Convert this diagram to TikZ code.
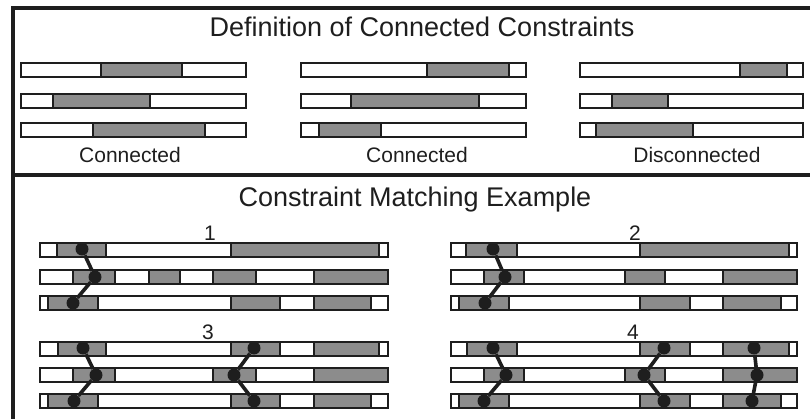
\documentclass[tikz,border=0pt]{standalone}
\usepackage{fontspec}
\setmainfont{Liberation Sans}
\definecolor{segfill}{RGB}{140,140,140}
\definecolor{ink}{RGB}{30,30,30}
% one constraint row: left, right, top, gray intervals
\newcommand{\crow}[4]{%
  \draw[barline,fill=white] (#1,#3) rectangle (#2,#3+14);
  \foreach \a/\b in {#4}
    \draw[barline,fill=segfill] (\a,#3) rectangle (\b,#3+14);
}

\begin{document}
\begin{tikzpicture}[x=0.5pt,y=-0.5pt,
    barline/.style={draw=ink,line width=1.2pt},
    frameline/.style={draw=ink,line width=1.8pt},
    dot/.style={circle,fill=ink,inner sep=0pt,minimum size=6.5pt},
    link/.style={draw=ink,line width=1.8pt},
    heading/.style={font=\fontsize{13.5}{16}\selectfont,text=ink},
    caption/.style={font=\fontsize{10.5}{12}\selectfont,text=ink}]
      \useasboundingbox (0,0) rectangle (810,419);

      % frame
      \draw[frameline] (810,8) -- (13,8) -- (13,419);
      \draw[frameline] (13,175) -- (810,175);

      % definition part
      \node[heading] (deftitle) at (422,27) {Definition of Connected Constraints};
      \crow{21}{246}{63}{101/182}
      \crow{21}{246}{94}{53/150}
      \crow{21}{246}{123}{93/205}
      \node[caption] (conA) at (130,155) {Connected};
      \crow{301}{526}{63}{427/509}
      \crow{301}{526}{94}{351/479}
      \crow{301}{526}{123}{319/381}
      \node[caption] (conB) at (417,155) {Connected};
      \crow{580}{803}{63}{740/787}
      \crow{580}{803}{94}{612/668}
      \crow{580}{803}{123}{596/693}
      \node[caption] (disC) at (697,155) {Disconnected};

      % matching example
      \node[heading] (mtitle) at (415,200) {Constraint Matching Example};

      \node[caption] (n1) at (210,233) {1};
      \crow{40}{388}{243}{57/106,231/379}
      \crow{40}{388}{270}{73/115,149/180,213/256,314/388}
      \crow{40}{388}{296}{48/98,231/280,314/371}
      \node[caption] (n2) at (635,233) {2};
      \crow{451}{797}{243}{466/517,640/789}
      \crow{451}{797}{270}{484/524,625/665,723/797}
      \crow{451}{797}{296}{459/509,640/690,723/781}
      \node[caption] (n3) at (208,332) {3};
      \crow{40}{388}{342}{58/106,231/280,314/379}
      \crow{40}{388}{368}{73/115,213/256,314/388}
      \crow{40}{388}{394}{48/98,231/280,314/371}
      \node[caption] (n4) at (633,332) {4};
      \crow{451}{797}{342}{467/517,640/690,723/789}
      \crow{451}{797}{368}{484/524,625/665,723/797}
      \crow{451}{797}{394}{459/509,640/690,723/781}

      % matched points
      \node[dot] (a1) at (82,249) {};
      \node[dot] (a2) at (95,277) {};
      \node[dot] (a3) at (73,303) {};
      \node[dot] (b1) at (493,249) {};
      \node[dot] (b2) at (505,277) {};
      \node[dot] (b3) at (485,303) {};
      \node[dot] (c1) at (83,348) {};
      \node[dot] (c2) at (96,375) {};
      \node[dot] (c3) at (74,401) {};
      \node[dot] (d1) at (254,348) {};
      \node[dot] (d2) at (234,375) {};
      \node[dot] (d3) at (254,401) {};
      \node[dot] (e1) at (493,348) {};
      \node[dot] (e2) at (506,375) {};
      \node[dot] (e3) at (484,401) {};
      \node[dot] (f1) at (664,348) {};
      \node[dot] (f2) at (644,375) {};
      \node[dot] (f3) at (664,401) {};
      \node[dot] (g1) at (754,348) {};
      \node[dot] (g2) at (757,375) {};
      \node[dot] (g3) at (752,401) {};

      \draw[link] (a1) -- (a2) -- (a3);
      \draw[link] (b1) -- (b2) -- (b3);
      \draw[link] (c1) -- (c2) -- (c3);
      \draw[link] (d1) -- (d2) -- (d3);
      \draw[link] (e1) -- (e2) -- (e3);
      \draw[link] (f1) -- (f2) -- (f3);
      \draw[link] (g1) -- (g2) -- (g3);
\end{tikzpicture}
\end{document}
